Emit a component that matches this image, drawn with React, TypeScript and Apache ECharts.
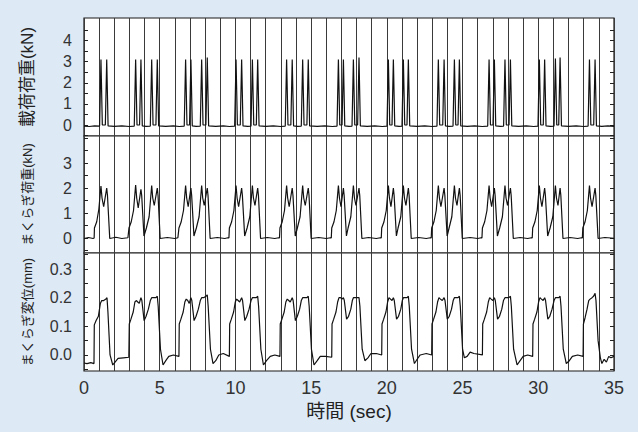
import React, { useEffect, useRef } from "react";
import * as echarts from "echarts";

// ---- Data ----
const xTickLabels = [0, 5, 10, 15, 20, 25, 30, 35];

const panelTitles = ["載荷荷重(kN)", "まくらぎ荷重(kN)", "まくらぎ変位(mm)"];
const xTitle = "時間 (sec)";

const loadTickValues = [-0.5, 0, 0.5, 1, 1.5, 2, 2.5, 3, 3.5, 4, 4.5];
const loadLabelValues = [0, 1, 2, 3, 4];
const sleeperLoadTickValues = [-0.5, 0, 0.5, 1, 1.5, 2, 2.5, 3, 3.5, 4];
const sleeperLoadLabelValues = [0, 1, 2, 3];
const dispTickValues = [-0.05, 0, 0.05, 0.1, 0.15, 0.2, 0.25, 0.3, 0.35];
const dispLabelValues = [0, 0.1, 0.2, 0.3];

// 載荷荷重 (kN) — time (sec), value
const loadData: [number, number][] = [
  [0, -0.05], [0.35, -0.07], [0.7, -0.04],
  [1.03, -0.05], [1.12, 3.1], [1.21, 0.0], [1.41, 0.0], [1.5, 3.1], [1.59, -0.04], [2.0, -0.06], [2.5, -0.04], [3.0, -0.07],
  [3.32, -0.05], [3.41, 3.1], [3.5, 0.0], [3.67, 0.0], [3.76, 3.1], [3.85, -0.04], [4.1, -0.06], [4.38, -0.05], [4.47, 3.1], [4.56, 0.0], [4.75, 0.0], [4.84, 3.1], [4.93, -0.04], [5.4, -0.06], [5.9, -0.04], [6.3, -0.07],
  [6.62, -0.05], [6.71, 3.1], [6.8, 0.0], [6.97, 0.0], [7.06, 3.1], [7.15, -0.04], [7.4, -0.06], [7.68, -0.05], [7.77, 3.1], [7.86, 0.0], [8.05, 0.0], [8.14, 3.2], [8.23, -0.04], [8.7, -0.06], [9.2, -0.04], [9.6, -0.07],
  [9.95, -0.05], [10.04, 3.1], [10.13, 0.0], [10.32, 0.0], [10.41, 3.1], [10.5, -0.04], [10.8, -0.06], [11.03, -0.05], [11.12, 3.1], [11.21, 0.0], [11.38, 0.0], [11.47, 3.1], [11.56, -0.04], [12.0, -0.06], [12.5, -0.04], [13.0, -0.07],
  [13.29, -0.05], [13.38, 3.1], [13.47, 0.0], [13.66, 0.0], [13.75, 3.1], [13.84, -0.04], [14.1, -0.06], [14.35, -0.05], [14.44, 3.1], [14.53, 0.0], [14.72, 0.0], [14.81, 3.1], [14.9, -0.04], [15.4, -0.06], [15.9, -0.04], [16.4, -0.07],
  [16.71, -0.05], [16.8, 3.1], [16.89, 0.0], [17.04, 0.0], [17.13, 3.1], [17.22, -0.04], [17.5, -0.06], [17.7, -0.05], [17.79, 3.1], [17.88, 0.0], [18.07, 0.0], [18.16, 3.2], [18.25, -0.04], [18.7, -0.06], [19.2, -0.04], [19.7, -0.07],
  [20.01, -0.05], [20.1, 3.1], [20.19, 0.0], [20.34, 0.0], [20.43, 3.1], [20.52, -0.04], [20.8, -0.06], [21.0, -0.05], [21.09, 3.1], [21.18, 0.0], [21.33, 0.0], [21.42, 3.1], [21.51, -0.04], [22.0, -0.06], [22.5, -0.04], [23.0, -0.07],
  [23.31, -0.05], [23.4, 3.1], [23.49, 0.0], [23.69, 0.0], [23.78, 3.1], [23.87, -0.04], [24.1, -0.06], [24.37, -0.05], [24.46, 3.1], [24.55, 0.0], [24.7, 0.0], [24.79, 3.1], [24.88, -0.04], [25.3, -0.06], [25.8, -0.04], [26.3, -0.07],
  [26.66, -0.05], [26.75, 3.1], [26.84, 0.0], [27.01, 0.0], [27.1, 3.1], [27.19, -0.04], [27.5, -0.06], [27.71, -0.05], [27.8, 3.1], [27.89, 0.0], [28.07, 0.0], [28.16, 3.1], [28.25, -0.04], [28.7, -0.06], [29.2, -0.04], [29.7, -0.07],
  [29.98, -0.05], [30.07, 3.1], [30.16, 0.0], [30.33, 0.0], [30.42, 3.1], [30.51, -0.04], [30.8, -0.06], [31.04, -0.05], [31.13, 3.15], [31.22, 0.0], [31.35, 0.0], [31.44, 3.2], [31.53, -0.04], [32.0, -0.06], [32.5, -0.04], [33.0, -0.07],
  [33.29, -0.05], [33.38, 3.1], [33.47, 0.0], [33.66, 0.0], [33.75, 3.1], [33.84, -0.04], [34.2, -0.06], [34.6, -0.04], [35, -0.06],
];

// まくらぎ荷重 (kN)
const sleeperLoadData: [number, number][] = [
  [0, -0.02], [0.3, 0.02], [0.6, -0.02],
  [0.67, 0.0], [0.69, 0.4], [0.84, 0.65], [0.98, 1.15], [1.12, 2.08], [1.19, 1.6], [1.3, 1.25], [1.5, 2.0], [1.55, 1.7], [1.7, -0.02], [2.1, 0.03], [2.5, -0.02], [2.9, 0.01],
  [2.94, 0.0], [2.97, 0.4], [3.12, 0.65], [3.27, 1.1], [3.41, 2.12], [3.48, 1.6], [3.58, 1.2], [3.76, 1.95], [3.81, 1.7], [3.96, 0.08], [4.12, 0.4], [4.3, 0.85], [4.47, 2.1], [4.54, 1.6], [4.64, 1.3], [4.84, 2.0], [4.89, 1.7], [5.03, -0.02], [5.5, 0.02], [6.0, -0.02], [6.2, 0.01],
  [6.24, 0.0], [6.27, 0.4], [6.42, 0.65], [6.57, 1.1], [6.71, 2.1], [6.78, 1.6], [6.88, 1.25], [7.06, 2.0], [7.11, 1.7], [7.26, 0.08], [7.42, 0.4], [7.6, 0.85], [7.77, 2.1], [7.84, 1.6], [7.94, 1.3], [8.14, 2.0], [8.19, 1.7], [8.33, -0.02], [8.8, 0.02], [9.3, -0.02], [9.5, 0.01],
  [9.57, 0.0], [9.6, 0.4], [9.75, 0.65], [9.9, 1.1], [10.04, 2.1], [10.11, 1.6], [10.21, 1.25], [10.41, 2.0], [10.46, 1.7], [10.61, 0.08], [10.77, 0.4], [10.95, 0.85], [11.12, 2.1], [11.19, 1.6], [11.29, 1.3], [11.47, 2.0], [11.52, 1.7], [11.66, -0.02], [12.1, 0.02], [12.6, -0.02], [12.85, 0.01],
  [12.91, 0.0], [12.94, 0.4], [13.09, 0.65], [13.24, 1.1], [13.38, 2.1], [13.45, 1.6], [13.55, 1.25], [13.75, 2.0], [13.8, 1.7], [13.95, 0.08], [14.09, 0.4], [14.27, 0.85], [14.44, 2.1], [14.51, 1.6], [14.61, 1.3], [14.81, 2.0], [14.86, 1.7], [15.0, -0.02], [15.5, 0.02], [16.0, -0.02], [16.27, 0.01],
  [16.33, 0.0], [16.36, 0.4], [16.51, 0.65], [16.66, 1.1], [16.8, 2.1], [16.87, 1.6], [16.97, 1.25], [17.13, 2.0], [17.18, 1.7], [17.33, 0.08], [17.44, 0.4], [17.62, 0.85], [17.79, 2.1], [17.86, 1.6], [17.96, 1.3], [18.16, 2.0], [18.21, 1.7], [18.35, -0.02], [18.8, 0.02], [19.3, -0.02], [19.57, 0.01],
  [19.63, 0.0], [19.66, 0.4], [19.81, 0.65], [19.96, 1.1], [20.1, 2.1], [20.17, 1.6], [20.27, 1.25], [20.43, 2.0], [20.48, 1.7], [20.63, 0.08], [20.74, 0.4], [20.92, 0.85], [21.09, 2.1], [21.16, 1.6], [21.26, 1.3], [21.42, 2.0], [21.47, 1.7], [21.61, -0.02], [22.1, 0.02], [22.6, -0.02], [22.87, 0.01],
  [22.93, 0.0], [22.96, 0.4], [23.11, 0.65], [23.26, 1.1], [23.4, 2.1], [23.47, 1.6], [23.57, 1.25], [23.78, 2.0], [23.83, 1.7], [23.98, 0.08], [24.11, 0.4], [24.29, 0.85], [24.46, 2.1], [24.53, 1.6], [24.63, 1.3], [24.79, 2.0], [24.84, 1.7], [24.98, -0.02], [25.5, 0.02], [26.0, -0.02], [26.22, 0.01],
  [26.28, 0.0], [26.31, 0.4], [26.46, 0.65], [26.61, 1.1], [26.75, 2.1], [26.82, 1.6], [26.92, 1.25], [27.1, 2.0], [27.15, 1.7], [27.3, 0.08], [27.45, 0.4], [27.63, 0.85], [27.8, 2.1], [27.87, 1.6], [27.97, 1.3], [28.16, 2.0], [28.21, 1.7], [28.35, -0.02], [28.8, 0.02], [29.3, -0.02], [29.54, 0.01],
  [29.6, 0.0], [29.63, 0.4], [29.78, 0.65], [29.93, 1.1], [30.07, 2.1], [30.14, 1.6], [30.24, 1.25], [30.42, 2.0], [30.47, 1.7], [30.62, 0.08], [30.78, 0.4], [30.96, 0.85], [31.13, 2.1], [31.2, 1.6], [31.3, 1.3], [31.44, 2.0], [31.49, 1.7], [31.63, -0.02], [32.1, 0.02], [32.6, -0.02], [32.85, 0.01],
  [32.91, 0.0], [32.94, 0.4], [33.09, 0.65], [33.24, 1.1], [33.38, 2.1], [33.45, 1.6], [33.55, 1.25], [33.75, 2.0], [33.8, 1.7], [33.95, -0.02], [34.4, 0.02], [35, -0.01],
];

// まくらぎ変位 (mm)
const dispData: [number, number][] = [
  [0, -0.028], [0.2, -0.03], [0.45, -0.027], [0.66, -0.03],
  [0.68, 0.105], [0.8, 0.12], [0.95, 0.135], [1.08, 0.18], [1.17, 0.19], [1.3, 0.19], [1.45, 0.195], [1.52, 0.2], [1.58, 0.15], [1.72, 0.0], [1.9, -0.035], [2.05, -0.025], [2.25, -0.012], [2.6, -0.01], [2.96, -0.008],
  [2.99, 0.108], [3.1, 0.125], [3.25, 0.15], [3.36, 0.185], [3.45, 0.19], [3.55, 0.185], [3.65, 0.18], [3.76, 0.2], [3.82, 0.19], [3.97, 0.12], [4.1, 0.135], [4.25, 0.16], [4.38, 0.19], [4.47, 0.2], [4.6, 0.2], [4.75, 0.2], [4.84, 0.205], [4.9, 0.17], [5.05, 0.02], [5.22, -0.035], [5.4, -0.02], [5.6, -0.005], [5.9, 0.0], [6.27, -0.005],
  [6.29, 0.108], [6.4, 0.125], [6.55, 0.15], [6.66, 0.185], [6.75, 0.195], [6.85, 0.19], [6.95, 0.18], [7.06, 0.2], [7.12, 0.19], [7.27, 0.12], [7.4, 0.135], [7.55, 0.16], [7.68, 0.19], [7.77, 0.2], [7.9, 0.2], [8.05, 0.205], [8.14, 0.21], [8.2, 0.17], [8.35, 0.02], [8.52, -0.03], [8.7, -0.02], [8.9, 0.0], [9.2, 0.005], [9.6, -0.005],
  [9.62, 0.108], [9.73, 0.125], [9.88, 0.15], [9.99, 0.185], [10.08, 0.195], [10.18, 0.19], [10.28, 0.185], [10.41, 0.2], [10.47, 0.19], [10.62, 0.12], [10.75, 0.135], [10.9, 0.16], [11.03, 0.19], [11.12, 0.2], [11.25, 0.2], [11.38, 0.2], [11.47, 0.205], [11.53, 0.17], [11.68, 0.02], [11.85, -0.035], [12.05, -0.02], [12.3, -0.005], [12.6, 0.0], [12.94, -0.005],
  [12.96, 0.108], [13.07, 0.125], [13.22, 0.15], [13.33, 0.185], [13.42, 0.195], [13.52, 0.19], [13.62, 0.185], [13.75, 0.2], [13.81, 0.19], [13.96, 0.12], [14.09, 0.135], [14.24, 0.16], [14.35, 0.19], [14.44, 0.2], [14.57, 0.2], [14.72, 0.2], [14.81, 0.205], [14.87, 0.17], [15.02, 0.02], [15.19, -0.035], [15.4, -0.02], [15.6, -0.005], [15.95, -0.005], [16.36, -0.008],
  [16.38, 0.108], [16.49, 0.125], [16.64, 0.15], [16.75, 0.185], [16.84, 0.2], [16.94, 0.2], [17.04, 0.195], [17.13, 0.2], [17.19, 0.19], [17.34, 0.125], [17.47, 0.135], [17.62, 0.16], [17.72, 0.19], [17.79, 0.2], [17.92, 0.2], [18.06, 0.2], [18.16, 0.2], [18.22, 0.17], [18.37, 0.02], [18.55, -0.02], [18.75, -0.01], [18.95, 0.005], [19.3, 0.005], [19.66, 0.0],
  [19.68, 0.108], [19.79, 0.125], [19.94, 0.15], [20.05, 0.185], [20.14, 0.2], [20.24, 0.195], [20.34, 0.19], [20.43, 0.2], [20.49, 0.19], [20.64, 0.125], [20.77, 0.135], [20.92, 0.16], [21.02, 0.19], [21.09, 0.2], [21.22, 0.2], [21.34, 0.2], [21.42, 0.205], [21.48, 0.17], [21.63, 0.02], [21.82, -0.03], [22.0, -0.015], [22.2, 0.0], [22.6, 0.005], [22.96, 0.0],
  [22.98, 0.108], [23.09, 0.125], [23.24, 0.15], [23.35, 0.185], [23.44, 0.2], [23.54, 0.195], [23.66, 0.19], [23.78, 0.2], [23.84, 0.19], [23.99, 0.125], [24.12, 0.135], [24.27, 0.16], [24.38, 0.19], [24.46, 0.2], [24.59, 0.2], [24.7, 0.2], [24.79, 0.205], [24.85, 0.17], [25.0, 0.02], [25.12, -0.01], [25.3, -0.005], [25.5, 0.01], [25.75, 0.005], [26.31, 0.0],
  [26.33, 0.108], [26.44, 0.125], [26.59, 0.15], [26.7, 0.185], [26.79, 0.2], [26.89, 0.195], [27.0, 0.19], [27.1, 0.2], [27.16, 0.19], [27.31, 0.125], [27.44, 0.135], [27.59, 0.16], [27.7, 0.19], [27.8, 0.2], [27.93, 0.2], [28.06, 0.2], [28.16, 0.205], [28.22, 0.17], [28.37, 0.02], [28.6, -0.035], [28.8, -0.02], [29.0, -0.005], [29.3, 0.0], [29.63, -0.005],
  [29.65, 0.108], [29.76, 0.125], [29.91, 0.15], [30.02, 0.185], [30.11, 0.2], [30.21, 0.195], [30.32, 0.19], [30.42, 0.2], [30.48, 0.19], [30.63, 0.125], [30.76, 0.135], [30.91, 0.16], [31.04, 0.19], [31.13, 0.2], [31.26, 0.2], [31.36, 0.2], [31.44, 0.205], [31.5, 0.17], [31.65, 0.02], [31.85, -0.03], [32.05, -0.02], [32.25, -0.005], [32.6, 0.0], [32.96, -0.005],
  [32.98, 0.108], [33.09, 0.13], [33.22, 0.16], [33.33, 0.19], [33.42, 0.195], [33.55, 0.2], [33.65, 0.205], [33.75, 0.215], [33.81, 0.19], [33.95, 0.05], [34.1, -0.01], [34.2, -0.03], [34.35, -0.015], [34.5, -0.025], [34.65, -0.005], [34.8, -0.01], [35, -0.005],
];

const FONT = "'Liberation Sans', 'Noto Sans CJK JP', sans-serif";

export default function App() {
  const ref = useRef<HTMLDivElement>(null);
  useEffect(() => {
    if (!ref.current) return;
    const chart = echarts.init(ref.current, undefined, { renderer: "svg" });

    const gridTops = [18, 136, 253];
    const gridHeights = [118, 117, 118];
    const yRanges = [
      [-0.52, 5.07],
      [-0.6, 4.08],
      [-0.056, 0.356],
    ];
    const tickVals = [loadTickValues, sleeperLoadTickValues, dispTickValues];
    const labelVals = [loadLabelValues, sleeperLoadLabelValues, dispLabelValues];
    const nameSizes = [17, 13, 13];
    const nameGaps = [48, 50, 50];
    const seriesData = [loadData, sleeperLoadData, dispData];

    const grid = gridTops.map((t, i) => ({
      left: 84,
      right: 24,
      top: t,
      height: gridHeights[i],
      show: true,
      backgroundColor: "#ffffff",
      borderColor: "#1a1a1a",
      borderWidth: 1.2,
    }));

    const xAxis = gridTops.map((_, i) => ({
      type: "value",
      gridIndex: i,
      min: 0,
      max: 35,
      interval: 1,
      axisLine: { show: false },
      axisTick: { show: false },
      splitLine: { show: true, lineStyle: { color: "#3a3a3a", width: 1 } },
      axisLabel:
        i === 2
          ? {
              show: true,
              customValues: xTickLabels,
              fontSize: 18,
              color: "#333",
              margin: 8,
              fontFamily: FONT,
            }
          : { show: false },
      name: i === 2 ? xTitle : "",
      nameLocation: "middle",
      nameGap: 31,
      nameTextStyle: { fontSize: 19, color: "#222", fontFamily: FONT },
    }));

    const yAxis: any[] = [];
    gridTops.forEach((_, i) => {
      const fmt = (v: number) => (i === 2 ? v.toFixed(1) : String(v));
      yAxis.push({
        type: "value",
        gridIndex: i,
        position: "left",
        min: yRanges[i][0],
        max: yRanges[i][1],
        axisLine: { show: false },
        axisTick: {
          show: true,
          inside: true,
          length: 4,
          customValues: tickVals[i],
          lineStyle: { color: "#222" },
        },
        axisLabel: {
          show: true,
          customValues: labelVals[i],
          formatter: fmt,
          fontSize: 16,
          color: "#333",
          margin: 12,
          fontFamily: FONT,
        },
        splitLine: { show: false },
        name: panelTitles[i],
        nameLocation: "middle",
        nameRotate: 90,
        nameGap: nameGaps[i],
        nameTextStyle: { fontSize: nameSizes[i], color: "#222", fontFamily: FONT },
      });
      yAxis.push({
        type: "value",
        gridIndex: i,
        position: "right",
        min: yRanges[i][0],
        max: yRanges[i][1],
        axisLine: { show: false },
        axisTick: {
          show: true,
          inside: true,
          length: 4,
          customValues: tickVals[i],
          lineStyle: { color: "#222" },
        },
        axisLabel: { show: false },
        splitLine: { show: false },
      });
    });

    const series = seriesData.map((d, i) => ({
      type: "line",
      xAxisIndex: i,
      yAxisIndex: i * 2,
      data: d,
      showSymbol: false,
      symbol: "none",
      lineStyle: { color: "#111", width: 1.2 },
      z: 3,
    }));

    chart.setOption({
      animation: false,
      backgroundColor: "#dde9f5",
      textStyle: { fontFamily: FONT },
      grid,
      xAxis,
      yAxis,
      series,
    });
    return () => chart.dispose();
  }, []);

  return (
    <div
      ref={ref}
      style={{ position: "fixed", left: 0, top: 0, width: 638, height: 432 }}
    />
  );
}
